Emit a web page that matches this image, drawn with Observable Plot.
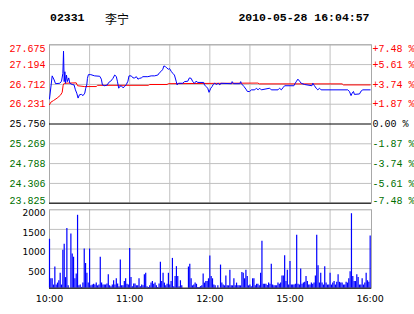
<!DOCTYPE html>
<html><head><meta charset="utf-8">
<script src="https://cdn.jsdelivr.net/npm/d3@7"></script>
<script src="https://cdn.jsdelivr.net/npm/@observablehq/plot@0.6"></script>
<style>
body{margin:0;background:#fff;}
#wrap{position:relative;width:414px;height:314px;overflow:hidden;background:#fff;}
#wrap svg{position:absolute;left:0;top:0;}
.t{position:absolute;top:10.5px;font:bold 11.5px "Liberation Mono",monospace;color:#000;line-height:14px;white-space:nowrap;}
</style></head><body>
<div id="wrap">
<div class="t" id="code" style="left:50px"></div>
<div class="t" id="name" style="left:105px;font:12px 'Noto Sans CJK SC';top:9.5px"></div>
<div class="t" id="stamp" style="right:44.5px"></div>
</div>
<script>
const stockCode = "02331";
const stockName = "李宁";
const stamp = "2010-05-28 16:04:57";
const prevClose = 25.75;
const priceTicks = [27.675, 27.194, 26.712, 26.231, 25.750, 25.269, 24.788, 24.306, 23.825];
const pctLabels = ["+7.48 %", "+5.61 %", "+3.74 %", "+1.87 %", "0.00 %", "-1.87 %", "-3.74 %", "-5.61 %", "-7.48 %"];
const volTicks = [2000, 1500, 1000, 500];
const timeTicks = [0, 60, 120, 180, 240];
const timeLabels = ["10:00", "11:00", "12:00", "15:00", "16:00"];
const gridMinutes = [30, 60, 90, 120, 150, 180, 210];

const priceMin = [0,2,3.5,4.5,7.7,9,10,10.5,11,11.5,12,12.7,13.4,14.4,15.2,17,18.4,19.4,20.4,21.4,22.4,23.9,25.1,26.4,27.1,27.9,28.4,29.1,30.9,33.8,37.6,38.8,39.6,41.3,43.3,44.3,45.8,47.5,48.8,50,50.8,51.8,52.5,53.7,55,56.2,57.5,58.7,59.5,61.2,62.5,63.7,65,66.2,67.4,68.7,69.9,73.6,76.1,78.6,81.1,82.4,83.6,84.8,85.6,86.6,87.8,89.1,89.8,91.1,92.3,93.5,94.8,95.5,96.5,99.8,101,103.5,104.7,106,107.2,108.5,109.7,111,115.4,116,117.2,118.4,119.4,120.7,121.7,122.5,123.7,125,126.2,127.5,128.2,136.2,136.7,137.7,142.4,143.1,143.6,145.6,147.4,148.1,149.8,151.1,153.6,154.8,156.1,157.3,158.5,164.8,166,171,172.2,173.5,174.7,176,182.9,183.9,184.9,185.9,187.2,188.4,190.9,196.4,197.1,198.3,199.6,200.8,202.1,203.3,223.2,224.5,225.7,226.5,227.5,228.2,232,233.2,234.5,240];
const priceVal = [26.36,26.92,26.82,26.73,26.74,26.79,26.98,27.52,26.78,27.02,26.74,26.94,26.78,26.87,26.74,26.71,26.70,26.58,26.50,26.38,26.46,26.47,26.44,26.50,26.62,26.70,26.86,26.95,26.95,26.92,26.91,26.84,26.70,26.68,26.70,26.76,26.79,26.86,26.94,26.905,26.79,26.62,26.66,26.68,26.63,26.66,26.71,26.79,26.92,26.92,26.87,26.87,26.90,26.84,26.86,26.87,26.90,26.90,26.92,26.92,26.94,27.00,27.03,27.08,27.16,27.15,27.11,27.08,27.10,27.03,26.98,26.94,26.79,26.70,26.74,26.74,26.78,26.79,26.87,26.86,26.78,26.74,26.79,26.76,26.76,26.70,26.66,26.62,26.52,26.62,26.66,26.71,26.74,26.71,26.74,26.70,26.74,26.73,26.78,26.73,26.73,26.78,26.73,26.66,26.58,26.54,26.54,26.58,26.58,26.62,26.58,26.62,26.58,26.62,26.58,26.58,26.62,26.58,26.63,26.68,26.68,26.74,26.79,26.84,26.79,26.74,26.71,26.68,26.74,26.68,26.62,26.58,26.62,26.58,26.58,26.54,26.44,26.50,26.54,26.47,26.48,26.55,26.58,26.58];

const avgMin = [0,1,3,5.7,8.2,9.5,10.2,11,20,21,26,35,36,74,75,88,89,156,157,219,220,240];
const avgVal = [26.22,26.28,26.32,26.38,26.45,26.52,26.69,26.74,26.75,26.68,26.66,26.66,26.69,26.69,26.71,26.71,26.73,26.745,26.725,26.725,26.70,26.70];

const volume = [
1250,240,240,80,540,80,130,190,380,80,
970,1120,270,1520,60,0,1380,870,790,240,
360,1860,60,80,20,130,1000,630,380,130,
1000,60,80,100,80,130,60,80,790,130,
80,80,80,110,340,60,40,80,190,80,
240,110,40,720,60,60,170,240,100,80,
1010,270,40,110,110,60,60,240,40,80,
60,340,380,40,20,60,130,170,100,130,
60,20,110,660,170,380,130,60,100,380,
80,170,760,40,300,550,300,40,190,60,
0,0,0,0,540,610,240,60,80,130,
100,20,20,40,60,360,130,170,170,240,
820,300,240,80,60,0,60,0,590,130,
80,60,310,60,60,460,60,60,240,60,
130,60,60,60,400,380,240,460,300,60,
80,40,240,240,60,100,100,60,380,1200,
100,100,100,70,130,100,610,80,60,60,
60,130,100,130,310,310,830,170,460,80,
680,80,80,80,100,1350,100,80,490,100,
130,150,300,170,80,80,130,100,130,310,
1350,570,130,380,130,80,550,130,80,80,
380,80,130,170,80,150,340,150,130,130,
80,80,150,130,240,420,1900,300,170,170,
340,270,80,80,240,80,130,380,190,150,
1330];

document.getElementById("code").textContent = stockCode;
document.getElementById("name").textContent = stockName;
document.getElementById("stamp").textContent = stamp;

const price = priceMin.map((m, i) => ({m, p: priceVal[i]}));
const avg = avgMin.map((m, i) => ({m, p: avgVal[i]}));
const vol = volume.map((v, m) => ({m, v})).filter(d => d.v > 0);
const GREEN = "#007000", RED = "#ff0000", GRID = "#c0c0c0", BLUE = "#0000ff";
const labs = priceTicks.map((v, i) => ({v, i, s: v.toFixed(3), pct: pctLabels[i],
  c: v > prevClose ? RED : v < prevClose ? GREEN : "#000"}));
const last = priceTicks.length - 1;
const mono = {fontFamily: "Liberation Mono", fontSize: 10};
const W = 414, H = 314, L = 49, R = 43;

const priceChart = Plot.plot({
  width: W, height: H, marginLeft: L, marginRight: R, marginTop: 44.3, marginBottom: H - 202.7,
  style: {background: "transparent", overflow: "visible"},
  x: {domain: [0, 241], axis: null},
  y: {domain: [priceTicks[last], priceTicks[0]], axis: null},
  marks: [
    Plot.ruleX(gridMinutes, {stroke: GRID}),
    Plot.ruleY(priceTicks.filter(v => v !== prevClose), {stroke: GRID}),
    Plot.frame({stroke: "#a8a8a8"}),
    Plot.ruleY([prevClose, priceTicks[last]], {stroke: "#000"}),
    Plot.line(avg, {x: "m", y: "p", stroke: RED, strokeWidth: 1}),
    Plot.line(price, {x: "m", y: "p", stroke: BLUE, strokeWidth: 1}),
    Plot.text(labs.filter(d => d.i > 0 && d.i < last), {y: "v", text: "s", fill: "c", frameAnchor: "left", textAnchor: "end", dx: -4, ...mono}),
    Plot.text(labs.filter(d => d.i === 0), {y: "v", text: "s", fill: "c", frameAnchor: "left", textAnchor: "end", dx: -4, dy: 3.7, ...mono}),
    Plot.text(labs.filter(d => d.i === last), {y: "v", text: "s", fill: "c", frameAnchor: "left", textAnchor: "end", dx: -4, dy: -2.7, ...mono}),
    Plot.text(labs.filter(d => d.i > 0 && d.i < last), {y: "v", text: "pct", fill: "c", frameAnchor: "right", textAnchor: "start", dx: 1, ...mono}),
    Plot.text(labs.filter(d => d.i === 0), {y: "v", text: "pct", fill: "c", frameAnchor: "right", textAnchor: "start", dx: 1, dy: 3.7, ...mono}),
    Plot.text(labs.filter(d => d.i === last), {y: "v", text: "pct", fill: "c", frameAnchor: "right", textAnchor: "start", dx: 1, dy: -2.7, ...mono})
  ]
});

const volChart = Plot.plot({
  width: W, height: H, marginLeft: L, marginRight: R, marginTop: 209.3, marginBottom: H - 287.7,
  style: {background: "transparent", overflow: "visible"},
  x: {domain: [0, 241], axis: null},
  y: {domain: [0, 2000], axis: null},
  marks: [
    Plot.ruleX(gridMinutes, {stroke: GRID}),
    Plot.ruleY(volTicks.slice(1), {stroke: GRID}),
    Plot.frame({stroke: "#a8a8a8"}),
    Plot.ruleX(vol, {x: "m", y1: 0, y2: "v", stroke: BLUE, strokeWidth: 1.2}),
    Plot.ruleY([0], {stroke: "#000"}),
    Plot.text(volTicks, {y: d => d, text: d => String(d), frameAnchor: "left", textAnchor: "end", lineAnchor: "top", dx: -4, fill: "#000", fontFamily: "DejaVu Sans", fontSize: 9}),
    Plot.text(timeTicks, {x: d => d, text: (d, i) => timeLabels[i], frameAnchor: "bottom", lineAnchor: "top", dy: 7, fill: "#000", fontFamily: "DejaVu Sans", fontSize: 9.5})
  ]
});

const wrap = document.getElementById("wrap");
wrap.appendChild(priceChart);
wrap.appendChild(volChart);
</script>
</body></html>
